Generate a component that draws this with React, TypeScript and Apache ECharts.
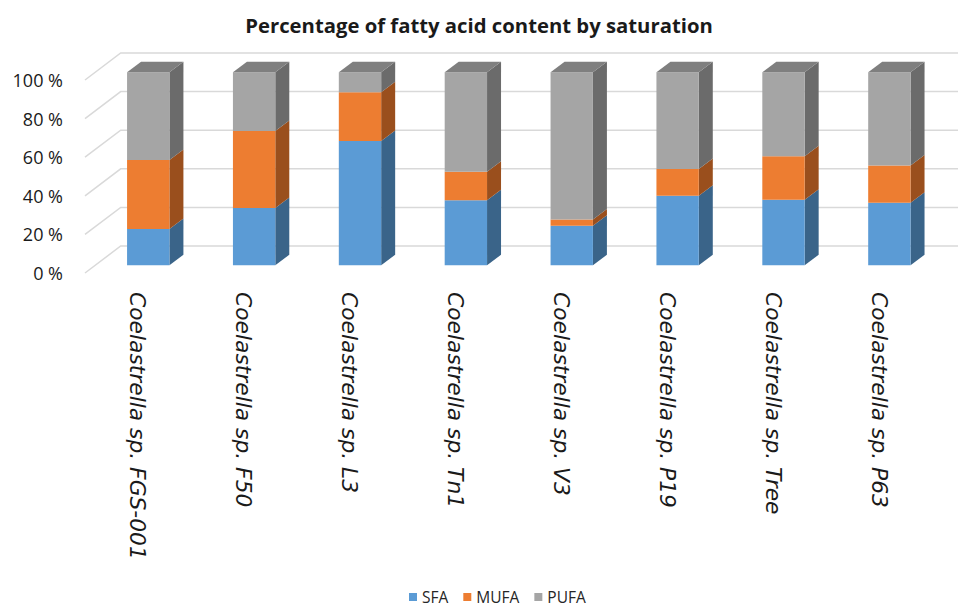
import React, { useEffect, useRef } from 'react';
import * as echarts from 'echarts';

const categories = [
  'Coelastrella sp. FGS-001',
  'Coelastrella sp. F50',
  'Coelastrella sp. L3',
  'Coelastrella sp. Tn1',
  'Coelastrella sp. V3',
  'Coelastrella sp. P19',
  'Coelastrella sp. Tree',
  'Coelastrella sp. P63',
];
const sfa = [18.7, 29.7, 64.3, 33.7, 20.4, 36.0, 33.9, 32.3];
const mufa = [35.8, 39.8, 25.3, 14.7, 3.3, 13.8, 22.5, 19.4];
const pufa = [45.5, 30.5, 10.4, 51.6, 76.3, 50.2, 43.6, 48.3];
const yTicks = [0, 20, 40, 60, 80, 100];
const seriesNames = ['SFA', 'MUFA', 'PUFA'];

const FONT = '"Open Sans", "Noto Sans", sans-serif';
const LABEL_FONT = '"DejaVu Sans", "Open Sans", sans-serif';
// projection offsets (front plane -> bar front, bar back, back wall)
const BF = [10.3, -7.8];
const BB = [24.3, -18.3];
const WB = [35.7, -27];

const palette = [
  { front: '#5B9BD5', side: '#3A6489', top: '#4A7FB0' },
  { front: '#ED7D31', side: '#9A4F1D', top: '#C0642A' },
  { front: '#A5A5A5', side: '#6B6B6B', top: '#7F7F7F' },
];

function makeRender(col: any, drawTop: boolean) {
  return (params: any, api: any) => {
    const c = api.value(0);
    const lo = api.value(1);
    const hi = api.value(2);
    const pLo = api.coord([c, lo]);
    const pHi = api.coord([c, hi]);
    const w = api.size([1, 0])[0] * 0.4;
    const L = pLo[0] + BF[0] - w / 2;
    const R = L + w;
    const yb = pLo[1] + BF[1];
    const yt = pHi[1] + BF[1];
    const dx = BB[0] - BF[0];
    const dy = BB[1] - BF[1];
    const children: any[] = [
      {
        type: 'polygon',
        shape: { points: [[R, yt], [R + dx, yt + dy], [R + dx, yb + dy], [R, yb]] },
        style: { fill: col.side },
      },
      {
        type: 'rect',
        shape: { x: L, y: yt, width: w, height: yb - yt },
        style: { fill: col.front },
      },
    ];
    if (drawTop) {
      children.push({
        type: 'polygon',
        shape: { points: [[L, yt], [R, yt], [R + dx, yt + dy], [L + dx, yt + dy]] },
        style: { fill: col.top },
      });
    }
    return { type: 'group', children };
  };
}

export default function App() {
  const ref = useRef<HTMLDivElement>(null);
  useEffect(() => {
    if (!ref.current) return;
    const chart = echarts.init(ref.current, undefined, { renderer: 'svg' });
    const values = [sfa, mufa, pufa];
    const stacked: number[][][] = [];
    const base = categories.map(() => 0);
    values.forEach((arr) => {
      stacked.push(
        arr.map((v, i) => {
          const item = [i, base[i], base[i] + v];
          base[i] += v;
          return item;
        })
      );
    });

    const gridSeries = {
      type: 'custom',
      name: 'grid',
      silent: true,
      z: 1,
      data: yTicks.map((t) => [0, t]),
      encode: { x: 0, y: 1 },
      renderItem: (params: any, api: any) => {
        const p = api.coord([0, api.value(1)]);
        const left = params.coordSys.x;
        return {
          type: 'polyline',
          shape: {
            points: [
              [left, p[1]],
              [left + WB[0], p[1] + WB[1]],
              [958, p[1] + WB[1]],
            ],
          },
          style: { stroke: '#D9D9D9', lineWidth: 1.5, fill: 'none' },
        };
      },
    };

    const barSeries = seriesNames.map((name, k) => ({
      type: 'custom',
      name,
      z: 2,
      itemStyle: { color: palette[k].front },
      data: stacked[k],
      encode: { x: 0, y: [1, 2] },
      renderItem: makeRender(palette[k], k === 2),
    }));

    chart.setOption({
      animation: false,
      backgroundColor: '#ffffff',
      title: {
        text: 'Percentage of fatty acid content by saturation',
        left: 'center',
        top: 10,
        textStyle: { fontFamily: FONT, fontSize: 20.3, fontWeight: 'bold', color: '#1a1a1a' },
      },
      legend: {
        data: seriesNames,
        bottom: 1,
        left: 404,
        icon: 'rect',
        itemWidth: 8,
        itemHeight: 8,
        itemGap: 15,
        textStyle: { fontFamily: FONT, fontSize: 15.5, color: '#262626' },
      },
      grid: { left: 85, right: 26, top: 80, bottom: 338, containLabel: false },
      xAxis: {
        type: 'category',
        data: categories,
        axisLine: { show: false },
        axisTick: { show: false },
        axisLabel: {
          rotate: -90,
          interval: 0,
          margin: 19,
          fontFamily: LABEL_FONT,
          fontStyle: 'italic',
          fontSize: 21.8,
          color: '#1a1a1a',
        },
      },
      yAxis: {
        type: 'value',
        min: 0,
        max: 100,
        interval: 20,
        axisLine: { show: false },
        axisTick: { show: false },
        splitLine: { show: false },
        axisLabel: {
          formatter: '{value} %',
          margin: 22,
          fontFamily: FONT,
          fontSize: 18,
          color: '#1a1a1a',
        },
      },
      series: [gridSeries, ...barSeries],
    });
    return () => chart.dispose();
  }, []);
  return (
    <div
      ref={ref}
      style={{ position: 'fixed', left: 0, top: 0, width: 958, height: 611 }}
    />
  );
}
